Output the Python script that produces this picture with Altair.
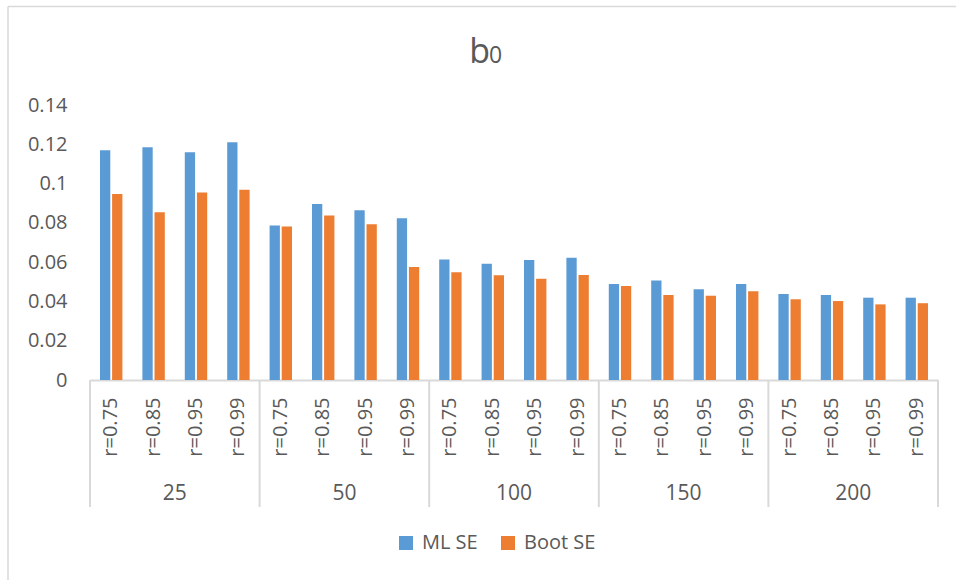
import altair as alt
import pandas as pd

# Sample sizes (outer category level) and correlation settings (inner level)
groups = ["25", "50", "100", "150", "200"]
r_levels = ["r=0.75", "r=0.85", "r=0.95", "r=0.99"]

# Standard errors of b0, ordered group by group, r level within group
ml_se = [0.1170, 0.1185, 0.1160, 0.1210,
         0.0786, 0.0896, 0.0864, 0.0823,
         0.0614, 0.0592, 0.0611, 0.0623,
         0.0489, 0.0506, 0.0462, 0.0489,
         0.0438, 0.0433, 0.0419, 0.0419]
boot_se = [0.0947, 0.0854, 0.0954, 0.0969,
           0.0781, 0.0837, 0.0793, 0.0575,
           0.0548, 0.0533, 0.0516, 0.0535,
           0.0479, 0.0433, 0.0429, 0.0452,
           0.0411, 0.0402, 0.0385, 0.0391]
series = ["ML SE", "Boot SE"]
colors = ["#5B9BD5", "#ED7D31"]
y_ticks = [0, 0.02, 0.04, 0.06, 0.08, 0.10, 0.12, 0.14]
title_main = "b"
title_sub = "0"

FONT = "Open Sans"
TEXT = "#595959"
LINE = "#D9D9D9"
W, H = 848, 275

keys = [f"{g}|{r}" for g in groups for r in r_levels]
rows = []
for i, k in enumerate(keys):
    rows.append({"cat": k, "series": series[0], "value": ml_se[i]})
    rows.append({"cat": k, "series": series[1], "value": boot_se[i]})
bars_df = pd.DataFrame(rows)

x_scale = alt.Scale(domain=keys, paddingInner=0, paddingOuter=0)
# Inner-level labels: the part of the key after "|", rotated to read upwards
x_axis = alt.Axis(title=None,
                  labelExpr="substring(datum.label, indexof(datum.label, '|') + 1)",
                  labelAngle=-90, labelFontSize=20, labelFont=FONT,
                  labelColor=TEXT, labelPadding=17, labelOverlap=False,
                  ticks=False, domainColor=LINE, domainWidth=2)

bars = alt.Chart(bars_df).mark_bar().encode(
    x=alt.X("cat:N", scale=x_scale, axis=x_axis),
    xOffset=alt.XOffset("series:N", sort=series,
                        scale=alt.Scale(paddingInner=0.15, paddingOuter=0.825)),
    y=alt.Y("value:Q", scale=alt.Scale(domain=[0, 0.14], nice=False),
            axis=alt.Axis(title=None, values=y_ticks, format=".2~f", grid=False,
                          domain=False, ticks=False, labelFontSize=20,
                          labelFont=FONT, labelColor=TEXT, labelPadding=23)),
    color=alt.Color("series:N", sort=series,
                    scale=alt.Scale(domain=series, range=colors),
                    legend=alt.Legend(title=None, orient="none", direction="horizontal",
                                      legendX=306, legendY=428, symbolType="square",
                                      symbolSize=196, symbolStrokeWidth=0,
                                      labelFontSize=20, labelFont=FONT,
                                      labelColor=TEXT, labelOffset=6,
                                      columnPadding=20)),
)

# Group separators: left edge of each group's first band, right edge of the last band
first_df = pd.DataFrame({"cat": [f"{g}|{r_levels[0]}" for g in groups]})
last_df = pd.DataFrame({"cat": [keys[-1]]})
sep_left = alt.Chart(first_df).mark_rule(color=LINE, strokeWidth=2).encode(
    x=alt.X("cat:N", scale=x_scale, bandPosition=0, axis=x_axis),
    y=alt.value(H), y2=alt.value(H + 127),
)
sep_right = alt.Chart(last_df).mark_rule(color=LINE, strokeWidth=2).encode(
    x=alt.X("cat:N", scale=x_scale, bandPosition=1, axis=x_axis),
    y=alt.value(H), y2=alt.value(H + 127),
)

# Outer level labels centred on each group of four bands
grp_df = pd.DataFrame({"cat": [f"{g}|{r_levels[1]}" for g in groups], "label": groups})
grp_text = alt.Chart(grp_df).mark_text(
    font=FONT, fontSize=21, color=TEXT, baseline="alphabetic", align="center"
).encode(
    x=alt.X("cat:N", scale=x_scale, bandPosition=1, axis=x_axis),
    y=alt.value(H + 120),
    text="label:N",
)

# Title "b" with a smaller "0" beside it
t_df = pd.DataFrame({"main": [title_main], "sub": [title_sub]})
t_main = alt.Chart(t_df).mark_text(
    font=FONT, fontSize=34, color=TEXT, align="right", baseline="alphabetic"
).encode(x=alt.value(400), y=alt.value(-42), text="main:N")
t_sub = alt.Chart(t_df).mark_text(
    font=FONT, fontSize=23, color=TEXT, align="left", baseline="alphabetic"
).encode(x=alt.value(399), y=alt.value(-42), text="sub:N")

# Chart frame (top and left edges)
frame_top = alt.Chart(t_df).mark_rule(color=LINE, strokeWidth=1.5).encode(
    x=alt.value(-82), x2=alt.value(W + 18), y=alt.value(-98.5)
)
frame_left = alt.Chart(t_df).mark_rule(color=LINE, strokeWidth=1.5).encode(
    x=alt.value(-82), y=alt.value(-98.5), y2=alt.value(H + 200)
)

chart = alt.layer(
    frame_top, frame_left, bars, sep_left, sep_right, grp_text, t_main, t_sub
).properties(
    width=W, height=H,
    background="white",
    autosize=alt.AutoSizeParams(type="none"),
    padding={"left": 90, "top": 105, "right": 18, "bottom": 200},
).configure_view(strokeWidth=0)

chart.save("out.html", embed_options={"renderer": "svg", "actions": False})
